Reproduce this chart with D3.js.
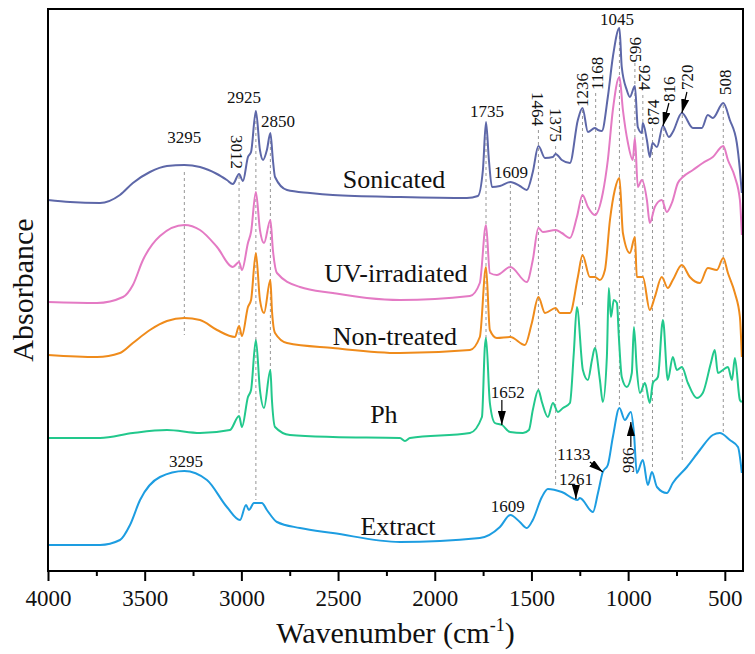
<!DOCTYPE html>
<html>
<head>
<meta charset="utf-8">
<script src="https://cdn.jsdelivr.net/npm/d3@7"></script>
<style>
  body { margin: 0; background: #fff; }
  svg text { font-family: "Liberation Serif", "Times New Roman", serif; fill: #111; }
  .guide { stroke: #8a8a8a; stroke-width: 0.9; stroke-dasharray: 3,3; fill: none; }
  .spectrum { fill: none; stroke-width: 2; stroke-linejoin: round; }
  .axis path, .axis line { stroke: #000; stroke-width: 2; }
  .axis text { font-size: 23px; }
</style>
</head>
<body>
<svg id="chart" width="755" height="654"></svg>
<script>
// wavenumber (cm-1), absorbance (a.u., offset per trace as in the figure)
const sonicated = [[4000,3.84],[3886,3.82],[3731,3.81],[3628,3.89],[3561,4.01],[3473,4.12],[3385,4.18],[3295,4.19],[3214,4.17],[3126,4.10],[3075,4.04],[3044,4.00],[3012,4.10],[2992,4.03],[2966,4.27],[2950,4.32],[2925,4.73],[2904,4.34],[2888,4.24],[2868,4.34],[2850,4.51],[2837,4.24],[2826,4.07],[2764,3.94],[2645,3.91],[2527,3.89],[2180,3.87],[1834,3.86],[1777,3.88],[1751,4.14],[1735,4.62],[1720,4.24],[1704,3.97],[1663,3.98],[1609,4.02],[1560,3.98],[1524,3.94],[1493,4.12],[1464,4.38],[1430,4.26],[1389,4.27],[1375,4.30],[1343,4.24],[1301,4.21],[1260,4.64],[1236,4.76],[1208,4.52],[1172,4.56],[1156,4.54],[1136,4.53],[1105,4.87],[1079,5.27],[1045,5.56],[1033,5.17],[1007,4.94],[991,4.87],[965,4.98],[950,4.57],[929,4.51],[924,4.61],[903,4.44],[888,4.27],[874,4.41],[851,4.37],[820,4.58],[789,4.47],[769,4.52],[722,4.71],[665,4.56],[619,4.56],[588,4.69],[562,4.66],[508,4.81],[474,4.64],[438,4.41],[422,4.14],[412,3.91]];

const uvIrradiated = [[4000,2.82],[3747,2.81],[3612,2.87],[3561,2.99],[3509,3.24],[3421,3.48],[3295,3.59],[3214,3.54],[3126,3.37],[3044,3.17],[3012,3.22],[2997,3.14],[2966,3.41],[2950,3.52],[2925,3.92],[2904,3.54],[2883,3.41],[2850,3.64],[2837,3.34],[2816,3.11],[2697,2.97],[2527,2.91],[2351,2.86],[2180,2.84],[1818,2.88],[1767,3.01],[1735,3.59],[1715,3.11],[1679,3.09],[1609,3.17],[1524,3.02],[1493,3.24],[1464,3.56],[1441,3.52],[1375,3.54],[1343,3.51],[1301,3.46],[1265,3.67],[1236,3.89],[1208,3.77],[1172,3.69],[1131,3.91],[1105,4.24],[1079,4.74],[1045,5.07],[1027,4.74],[1001,4.41],[976,4.24],[965,4.46],[950,3.97],[929,4.04],[903,3.84],[888,3.61],[862,3.77],[826,3.84],[800,3.72],[774,3.81],[743,4.01],[717,4.07],[665,4.14],[614,4.21],[562,4.27],[508,4.38],[484,4.24],[448,4.07],[422,3.84],[412,3.49]];

const nonTreated = [[4000,2.29],[3747,2.27],[3628,2.31],[3561,2.41],[3473,2.54],[3385,2.63],[3295,2.66],[3214,2.64],[3126,2.54],[3033,2.47],[3012,2.58],[2997,2.48],[2966,2.77],[2950,2.84],[2925,3.31],[2904,2.84],[2883,2.71],[2850,3.04],[2842,2.74],[2826,2.51],[2764,2.41],[2527,2.36],[2180,2.31],[1818,2.34],[1767,2.47],[1735,3.17],[1715,2.54],[1679,2.46],[1609,2.47],[1534,2.39],[1498,2.61],[1464,2.87],[1430,2.71],[1375,2.76],[1353,2.71],[1301,2.71],[1260,3.07],[1236,3.29],[1198,3.07],[1172,3.07],[1146,3.04],[1120,3.14],[1094,3.64],[1069,3.94],[1045,4.06],[1027,3.51],[991,3.31],[965,3.47],[955,3.07],[924,3.07],[888,2.74],[862,2.87],[826,3.07],[795,2.96],[769,3.04],[722,3.19],[681,3.07],[629,3.01],[588,3.16],[541,3.14],[508,3.26],[484,3.11],[448,2.91],[422,2.67],[412,2.27]];

const ph = [[4000,1.46],[3731,1.46],[3561,1.51],[3385,1.54],[3214,1.51],[3059,1.54],[3012,1.68],[2997,1.57],[2966,1.87],[2950,1.94],[2925,2.44],[2904,1.94],[2883,1.76],[2850,2.14],[2842,1.84],[2826,1.57],[2749,1.49],[2527,1.47],[2180,1.46],[2154,1.43],[2128,1.46],[1818,1.51],[1756,1.67],[1741,2.37],[1735,2.46],[1715,1.81],[1689,1.61],[1652,1.59],[1611,1.52],[1544,1.51],[1513,1.54],[1493,1.74],[1464,1.94],[1446,1.82],[1415,1.67],[1389,1.81],[1363,1.72],[1337,1.76],[1301,1.81],[1281,2.31],[1265,2.77],[1234,2.14],[1208,2.04],[1187,2.24],[1172,2.36],[1146,2.04],[1131,1.82],[1110,2.27],[1100,2.96],[1089,2.67],[1074,2.84],[1058,2.81],[1048,2.47],[1033,2.07],[1007,1.97],[981,2.11],[970,2.57],[955,2.14],[939,1.91],[913,2.01],[888,1.81],[872,2.01],[846,2.07],[820,2.64],[795,2.04],[769,2.27],[748,2.14],[722,2.17],[691,2.01],[645,1.86],[614,1.91],[572,2.21],[552,2.34],[536,2.11],[510,2.14],[484,2.17],[463,2.04],[448,2.26],[422,1.84],[412,1.82]];

const extract = [[4000,0.39],[3731,0.39],[3628,0.44],[3576,0.59],[3524,0.84],[3421,1.07],[3295,1.13],[3178,1.04],[3075,0.77],[3007,0.64],[2976,0.79],[2961,0.74],[2935,0.81],[2894,0.81],[2868,0.74],[2816,0.62],[2697,0.56],[2527,0.51],[2180,0.42],[1767,0.46],[1663,0.57],[1609,0.69],[1560,0.62],[1524,0.56],[1493,0.64],[1446,0.87],[1415,0.95],[1343,0.92],[1261,0.84],[1250,0.86],[1182,0.72],[1156,0.91],[1131,1.12],[1105,1.19],[1079,1.47],[1045,1.76],[1017,1.64],[986,1.72],[970,1.51],[955,1.11],[924,1.24],[898,0.99],[877,1.12],[851,0.97],[800,0.91],[769,1.01],[696,1.17],[629,1.34],[562,1.49],[526,1.51],[474,1.44],[432,1.37],[412,1.11]];

const seriesNames = ['Sonicated', 'UV-irradiated', 'Non-treated', 'Ph', 'Extract'];
const seriesData = [sonicated, uvIrradiated, nonTreated, ph, extract];
const seriesColors = ['#5d67a8', '#e47ac4', '#ef8b1b', '#22c88c', '#1d9de1'];
// where each trace name sits: [wavenumber, absorbance]
const seriesLabelAt = [[2211,3.96],[2201,3.02],[2206,2.39],[2263,1.61],[2190,0.49]];

const majorTicks = [4000, 3500, 3000, 2500, 2000, 1500, 1000, 500];
const minorTicks = [3750, 3250, 2750, 2250, 1750, 1250, 750];

// dashed guide lines: wavenumber, top, bottom
const guideWn  = [3295, 3012, 2925, 2850, 1735, 1609, 1464, 1375, 1236, 1168, 1045, 965, 924, 874, 816, 720, 508];
const guideTop = [4.12, 4.08, 4.69, 4.49, 4.59, 3.99, 4.54, 4.38, 4.74, 4.91, 5.54, 5.21, 4.89, 4.56, 4.56, 4.69, 4.79];
const guideBot = [2.49, 1.71, 0.84, 2.14, 2.44, 2.42, 1.94, 0.97, 2.77, 2.36, 1.76, 2.57, 1.31, 1.17, 2.64, 1.24, 1.52];

// peak labels: text, wavenumber, absorbance, rotation
const peakLabels = [
  ['3295', 3295, 4.41, 0], ['3012', 3023, 4.49, 90], ['2925', 2987, 4.81, 0], ['2850', 2811, 4.57, 0],
  ['1735', 1730, 4.67, 0], ['1609', 1606, 4.06, 0], ['1464', 1467, 4.92, 90], ['1375', 1374, 4.76, 90],
  ['1236', 1239, 4.77, -90], ['1168', 1162, 4.94, -90], ['1045', 1058, 5.59, 0], ['965', 960, 5.47, 90],
  ['924', 913, 5.19, 90], ['874', 872, 4.59, -90], ['816', 789, 4.82, -90], ['720', 696, 4.94, -90],
  ['508', 500, 4.89, -90], ['1652', 1622, 1.86, 0], ['1609', 1622, 0.72, 0], ['1261', 1270, 0.99, 0],
  ['1133', 1281, 1.24, 0], ['986', 1001, 1.11, -90], ['3295', 3287, 1.17, 0]
];

// arrows: from [wn, a] to [wn, a]
const arrows = [
  [[789, 4.81], [820, 4.58]], [[696, 4.92], [722, 4.71]], [[1653, 1.84], [1653, 1.59]],
  [[1270, 0.98], [1270, 0.85]], [[1198, 1.22], [1131, 1.12]], [[986, 1.37], [986, 1.62]]
];

const svg = d3.select('#chart');
const plotLeft = 48, plotRight = 743, plotTop = 9, plotBottom = 571;

const x = d3.scaleLinear().domain([4000, 406]).range([plotLeft, plotRight]);
const y = d3.scaleLinear().domain([0.13, 5.75]).range([plotBottom, plotTop]);

svg.append('defs').append('marker')
  .attr('id', 'head')
  .attr('markerUnits', 'userSpaceOnUse')
  .attr('viewBox', '0 0 14 8')
  .attr('refX', 14).attr('refY', 4)
  .attr('markerWidth', 14).attr('markerHeight', 8)
  .attr('orient', 'auto')
  .append('path').attr('d', 'M0,0 L14,4 L0,8 Z').attr('fill', '#000');

svg.selectAll('.guide')
  .data(guideWn)
  .enter()
  .append('line')
  .attr('class', 'guide')
  .attr('x1', d => x(d)).attr('x2', d => x(d))
  .attr('y1', (d, i) => y(guideTop[i]))
  .attr('y2', (d, i) => y(guideBot[i]));

const line = d3.line()
  .x(d => x(d[0]))
  .y(d => y(d[1]))
  .curve(d3.curveMonotoneX);

svg.selectAll('.spectrum')
  .data(seriesData)
  .enter()
  .append('path')
  .attr('class', 'spectrum')
  .attr('stroke', (d, i) => seriesColors[i])
  .attr('d', line);

svg.selectAll('.series-label')
  .data(seriesNames)
  .enter()
  .append('text')
  .attr('class', 'series-label')
  .attr('x', (d, i) => x(seriesLabelAt[i][0]))
  .attr('y', (d, i) => y(seriesLabelAt[i][1]))
  .attr('text-anchor', 'middle')
  .style('font-size', '26px')
  .text(d => d);

svg.selectAll('.peak-label')
  .data(peakLabels)
  .enter()
  .append('text')
  .attr('class', 'peak-label')
  .attr('transform', d => `translate(${x(d[1])},${y(d[2])}) rotate(${d[3]})`)
  .attr('text-anchor', d => d[3] === 0 ? 'middle' : 'start')
  .attr('dy', d => d[3] === 0 ? 0 : '0.35em')
  .style('font-size', '17px')
  .text(d => d[0]);

svg.selectAll('.arrow')
  .data(arrows)
  .enter()
  .append('line')
  .attr('class', 'arrow')
  .attr('x1', d => x(d[0][0])).attr('y1', d => y(d[0][1]))
  .attr('x2', d => x(d[1][0])).attr('y2', d => y(d[1][1]))
  .attr('stroke', '#000').attr('stroke-width', 1.2)
  .attr('marker-end', 'url(#head)');

// frame
svg.append('rect')
  .attr('x', plotLeft).attr('y', plotTop)
  .attr('width', plotRight - plotLeft).attr('height', plotBottom - plotTop)
  .attr('fill', 'none').attr('stroke', '#000').attr('stroke-width', 2);

svg.append('g')
  .attr('class', 'axis')
  .attr('transform', `translate(0,${plotBottom})`)
  .call(d3.axisBottom(x).tickValues(minorTicks).tickSize(5).tickFormat(''))
  .call(g => g.select('.domain').remove());

svg.append('g')
  .attr('class', 'axis')
  .attr('transform', `translate(0,${plotBottom})`)
  .call(d3.axisBottom(x).tickValues(majorTicks).tickSize(10).tickPadding(9).tickFormat(d3.format('d')))
  .call(g => g.select('.domain').remove());

const xTitle = svg.append('text')
  .attr('x', (plotLeft + plotRight) / 2)
  .attr('y', 643)
  .attr('text-anchor', 'middle')
  .style('font-size', '30px');
xTitle.append('tspan').text('Wavenumber (cm');
xTitle.append('tspan').attr('dy', -12).style('font-size', '18px').text('-1');
xTitle.append('tspan').attr('dy', 12).text(')');

svg.append('text')
  .attr('transform', `translate(33,${(plotTop + plotBottom) / 2}) rotate(-90)`)
  .attr('text-anchor', 'middle')
  .style('font-size', '30px')
  .text('Absorbance');
</script>
</body>
</html>
